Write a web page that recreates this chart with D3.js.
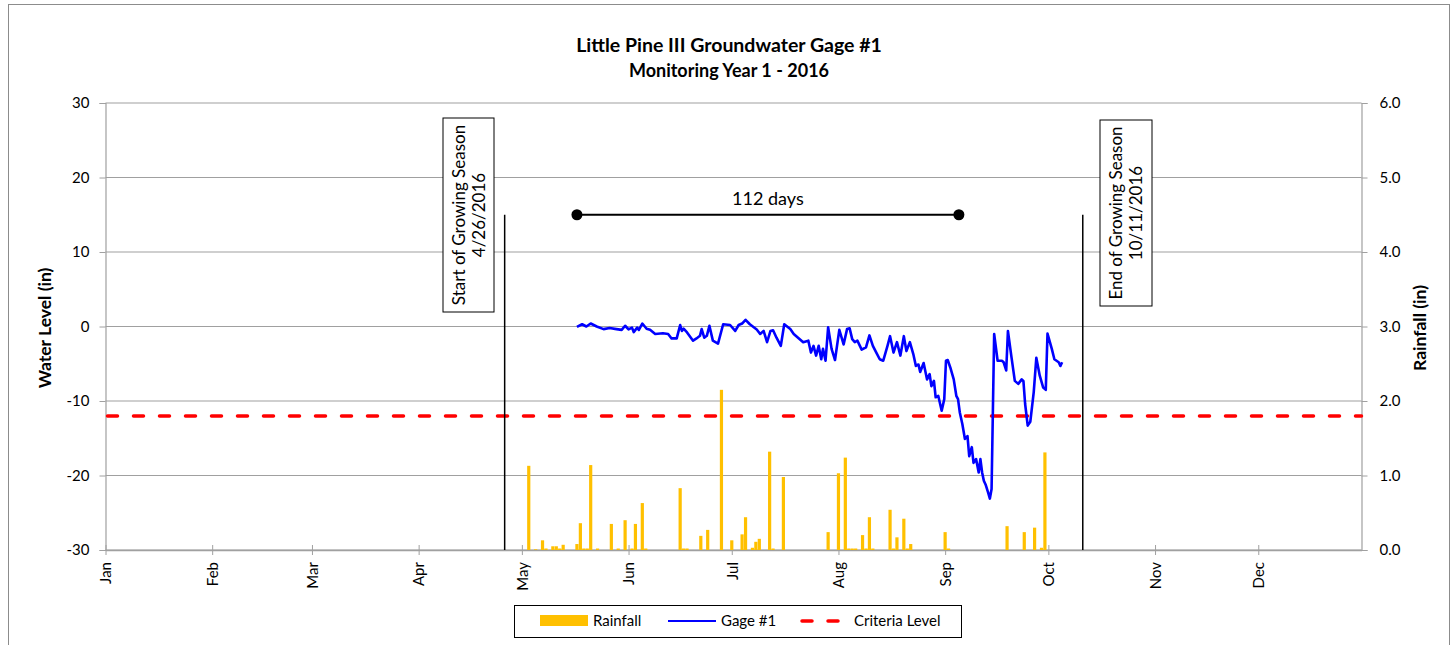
<!DOCTYPE html>
<html>
<head>
<meta charset="utf-8">
<script src="https://d3js.org/d3.v7.min.js"></script>
<style>
  body { margin: 0; background: #fff; }
  text { font-family: "Lato", "Liberation Sans", sans-serif; fill: #000; }
  .grid { stroke: #a0a0a0; stroke-width: 1.2; }
</style>
</head>
<body>
<div id="chart"></div>
<script>
// ---- data ----
var monthLabels = ["Jan", "Feb", "Mar", "Apr", "May", "Jun", "Jul", "Aug", "Sep", "Oct", "Nov", "Dec"];
var levelTicks = [-30, -20, -10, 0, 10, 20, 30];
var rainTicks = [0, 1, 2, 3, 4, 5, 6];

var rainDates = ["05-03","05-05","05-07","05-08","05-10","05-11","05-12","05-13","05-17","05-18",
  "05-19","05-20","05-21","05-23","05-27","05-29","05-31","06-02","06-03","06-05",
  "06-06","06-16","06-17","06-18","06-22","06-24","06-28","07-01","07-04","07-05",
  "07-07","07-08","07-09","07-12","07-13","07-16","07-29","08-01","08-03","08-04",
  "08-05","08-06","08-08","08-09","08-10","08-11","08-16","08-17","08-18","08-20",
  "08-21","08-22","09-01","09-02","09-19","09-24","09-27","09-29","09-30"];
var rainValues = [1.13,0.01,0.13,0.02,0.05,0.05,0.02,0.07,0.08,0.36,
  0.02,0.02,1.14,0.02,0.35,0.02,0.40,0.02,0.35,0.63,
  0.02,0.83,0.02,0.02,0.19,0.27,2.15,0.13,0.21,0.44,
  0.03,0.11,0.15,1.32,0.02,0.98,0.24,1.03,1.24,0.02,
  0.02,0.02,0.20,0.02,0.44,0.02,0.54,0.02,0.17,0.42,
  0.02,0.08,0.24,0.02,0.32,0.24,0.30,0.03,1.31];

var gageTimes = ["05-17 00","05-18 12","05-19 18","05-21 00","05-22 18","05-24 18","05-26 12","05-28 12","05-30 00","05-31 00",
  "06-01 00","06-02 00","06-02 12","06-03 12","06-04 00","06-05 00","06-06 06","06-07 06","06-08 18","06-11 00",
  "06-12 12","06-13 12","06-15 00","06-16 00","06-16 12","06-17 00","06-18 00","06-19 18","06-20 18","06-21 18",
  "06-22 06","06-23 00","06-23 18","06-24 12","06-25 12","06-27 00","06-28 12","06-30 12","07-02 00","07-03 00",
  "07-04 00","07-05 00","07-06 06","07-08 06","07-09 06","07-10 06","07-11 06","07-12 06","07-13 00","07-14 00",
  "07-15 06","07-16 06","07-18 00","07-19 00","07-20 06","07-21 18","07-23 06","07-24 00","07-24 18","07-25 12",
  "07-26 06","07-27 00","07-27 12","07-28 06","07-29 00","07-30 00","07-31 00","08-01 06","08-02 12","08-03 12",
  "08-04 06","08-05 00","08-05 18","08-06 12","08-07 18","08-09 00","08-10 00","08-11 00","08-12 00","08-13 00",
  "08-14 00","08-15 06","08-16 00","08-17 00","08-18 00","08-19 00","08-20 00","08-20 18","08-21 18","08-22 18",
  "08-23 12","08-24 06","08-24 18","08-25 18","08-26 18","08-27 12","08-28 00","08-28 18","08-29 06","08-30 00",
  "08-31 00","08-31 18","09-01 06","09-01 18","09-02 12","09-03 12","09-04 06","09-04 18","09-05 06","09-06 00",
  "09-06 18","09-07 12","09-08 00","09-08 18","09-09 06","09-10 00","09-10 18","09-11 06","09-11 18","09-12 06",
  "09-12 18","09-13 12","09-14 00","09-14 12","09-15 06","09-16 06","09-17 12","09-18 00","09-18 18","09-19 06",
  "09-20 06","09-21 06","09-22 06","09-23 06","09-23 18","09-24 06","09-25 00","09-25 18","09-26 18","09-27 12",
  "09-28 12","09-29 12","09-30 06","09-30 18","10-02 00","10-02 18","10-04 00","10-04 12","10-05 00"];
var gageLevels = [-0.05,0.3,0,0.4,0,-0.35,-0.2,-0.35,-0.45,0.1,
  -0.4,-0.15,-0.75,-0.15,-0.45,0.4,-0.3,-0.45,-1.0,-0.9,
  -1.0,-1.6,-1.6,0.2,-0.6,-0.3,-0.8,-1.9,-1.6,-1.25,
  -0.35,-1.5,-1.25,0.1,-1.9,-2.3,0.3,0.2,-0.6,0.2,
  0.4,0.9,0.3,-0.4,-1.0,-0.6,-2.1,-0.6,-0.5,-1.5,
  -2.6,0.3,-0.35,-1.0,-1.5,-2.1,-1.9,-3.5,-2.6,-3.9,
  -2.6,-4.4,-3.0,-4.6,-0.1,-3.0,-4.5,-0.45,-2.4,-0.35,
  -0.25,-1.7,-2.1,-1.9,-3.1,-2.8,-1.2,-2.6,-3.5,-4.4,
  -4.6,-2.6,-1.3,-3.5,-2.1,-3.9,-1.3,-3.3,-2.1,-3.7,
  -5.3,-5.1,-6.1,-4.9,-7.1,-6.4,-8.0,-7.3,-9.5,-9.3,
  -11.3,-9.75,-4.6,-4.5,-5.5,-7.1,-9.3,-9.75,-11.5,-13.1,
  -15.1,-14.7,-17.4,-16.2,-18.3,-17.8,-19.6,-17.8,-19.6,-20.7,
  -21.2,-22.3,-23.1,-21.8,-1.0,-4.6,-4.6,-4.8,-5.9,-0.6,
  -4.0,-7.3,-7.7,-7.1,-7.3,-10.4,-13.3,-12.8,-8.8,-4.2,
  -6.6,-8.2,-8.5,-0.95,-3.0,-4.4,-4.8,-5.3,-4.8];

var criteriaLevel = -12;
var seasonStart = "04-26", seasonEnd = "10-11";
var spanStart = "05-17", spanEnd = "09-05", spanLevel = 15, spanLabel = "112 days";

// ---- layout ----
var W = 1456, H = 645;
var plot = { left: 105.5, right: 1361.5, top: 103, bottom: 550 };

var parseDay = d3.timeParse("%Y-%m-%d");
var parseTime = d3.timeParse("%Y-%m-%d %H");
function day(s) { return parseDay("2016-" + s); }

var x = d3.scaleTime()
  .domain([new Date(2016, 0, 1), new Date(2016, 11, 31)])
  .range([plot.left, plot.right]);
var y = d3.scaleLinear().domain([-30, 30]).range([plot.bottom, plot.top]);
var yR = d3.scaleLinear().domain([0, 6]).range([plot.bottom, plot.top]);

var svg = d3.select("#chart").append("svg")
  .attr("width", W).attr("height", H);

svg.append("rect").attr("width", W).attr("height", H).attr("fill", "#fff");
// chart frame
svg.append("rect").attr("x", 8.5).attr("y", 4.5).attr("width", 1441).attr("height", 660)
  .attr("fill", "none").attr("stroke", "#8c8c8c").attr("stroke-width", 1);

// title
svg.append("text").attr("x", 729).attr("y", 52).attr("text-anchor", "middle")
  .style("font-weight", "bold").style("font-size", "19.5px")
  .text("Little Pine III Groundwater Gage #1");
svg.append("text").attr("x", 729).attr("y", 77).attr("text-anchor", "middle")
  .style("font-weight", "bold").style("font-size", "18px")
  .text("Monitoring Year 1 - 2016");

// gridlines
svg.append("g").selectAll("line").data(levelTicks).join("line")
  .attr("class", "grid")
  .attr("x1", plot.left).attr("x2", plot.right)
  .attr("y1", d => y(d)).attr("y2", d => y(d));

// left axis
var leftAxis = svg.append("g").attr("transform", "translate(" + plot.left + ",0)")
  .call(d3.axisLeft(y).tickValues(levelTicks).tickFormat(d => String(d)).tickSize(6).tickPadding(10));
leftAxis.select(".domain").attr("stroke", "#a0a0a0").attr("stroke-width", 1.2);
leftAxis.selectAll(".tick line").attr("stroke", "#a0a0a0");
leftAxis.selectAll("text").style("font-size", "15px").style("font-family", "Lato, sans-serif");

// right axis
var rightAxis = svg.append("g").attr("transform", "translate(" + plot.right + ",0)")
  .call(d3.axisRight(yR).tickValues(rainTicks).tickFormat(d => d.toFixed(1)).tickSize(6).tickPadding(12));
rightAxis.select(".domain").attr("stroke", "#a0a0a0").attr("stroke-width", 1.2);
rightAxis.selectAll(".tick line").attr("stroke", "#a0a0a0");
rightAxis.selectAll("text").style("font-size", "15px").style("font-family", "Lato, sans-serif");

// bottom axis
var months = d3.range(12).map(m => new Date(2016, m, 1));
var bottomAxis = svg.append("g").attr("transform", "translate(0," + plot.bottom + ")")
  .call(d3.axisBottom(x).tickValues(months).tickFormat((d, i) => monthLabels[i]).tickSize(5).tickSizeOuter(0));
bottomAxis.select(".domain").attr("stroke", "#a0a0a0").attr("stroke-width", 1.5);
bottomAxis.selectAll(".tick line").attr("stroke", "#a0a0a0").attr("y1", -5).attr("y2", 5);
bottomAxis.selectAll("text")
  .style("font-size", "15px").style("font-family", "Lato, sans-serif")
  .attr("text-anchor", "end").attr("transform", "rotate(-90)")
  .attr("x", -12).attr("y", 0).attr("dy", "0.35em");

// axis titles
svg.append("text").attr("transform", "translate(51,328) rotate(-90)")
  .attr("text-anchor", "middle").style("font-weight", "bold").style("font-size", "17.5px")
  .text("Water Level (in)");
svg.append("text").attr("transform", "translate(1426,328) rotate(-90)")
  .attr("text-anchor", "middle").style("font-weight", "bold").style("font-size", "17.5px")
  .text("Rainfall (in)");

// rainfall bars
var rain = rainDates.map((d, i) => ({ date: day(d), value: rainValues[i] }));
svg.append("g").selectAll("rect").data(rain).join("rect")
  .attr("x", d => x(d.date) - 1.6).attr("width", 3.2)
  .attr("y", d => yR(d.value)).attr("height", d => yR(0) - yR(d.value))
  .attr("fill", "#ffc000");

// criteria line
svg.append("line")
  .attr("x1", plot.left).attr("x2", plot.right)
  .attr("y1", y(criteriaLevel)).attr("y2", y(criteriaLevel))
  .attr("stroke", "#ff0000").attr("stroke-width", 3.5)
  .attr("stroke-dasharray", "10,16").attr("stroke-linecap", "round")
  .attr("stroke-dashoffset", -2);

// season lines
[seasonStart, seasonEnd].forEach(s => {
  svg.append("line")
    .attr("x1", x(day(s))).attr("x2", x(day(s)))
    .attr("y1", y(spanLevel)).attr("y2", plot.bottom)
    .attr("stroke", "#000").attr("stroke-width", 1.5);
});

// gage line
var gage = gageTimes.map((t, i) => ({ date: parseTime("2016-" + t), value: gageLevels[i] }));
svg.append("path").datum(gage)
  .attr("fill", "none").attr("stroke", "#0000ff").attr("stroke-width", 2.6)
  .attr("stroke-linejoin", "round")
  .attr("d", d3.line().x(d => x(d.date)).y(d => y(d.value)));

// 112 days span
var sx1 = x(day(spanStart)), sx2 = x(day(spanEnd)), sy = y(spanLevel);
svg.append("line").attr("x1", sx1).attr("x2", sx2).attr("y1", sy).attr("y2", sy)
  .attr("stroke", "#000").attr("stroke-width", 2);
[sx1, sx2].forEach(cx => svg.append("circle").attr("cx", cx).attr("cy", sy).attr("r", 5.5).attr("fill", "#000"));
svg.append("text").attr("x", (sx1 + sx2) / 2).attr("y", sy - 10).attr("text-anchor", "middle")
  .style("font-size", "18px").text(spanLabel);

// season annotation boxes
function seasonBox(cx, cy, w, h, lines) {
  svg.append("rect").attr("x", cx - w / 2).attr("y", cy - h / 2).attr("width", w).attr("height", h)
    .attr("fill", "#fff").attr("stroke", "#000").attr("stroke-width", 1);
  var t = svg.append("text").attr("transform", "translate(" + cx + "," + cy + ") rotate(-90)")
    .attr("text-anchor", "middle").style("font-size", "17px");
  t.append("tspan").attr("x", 0).attr("y", -4).text(lines[0]);
  t.append("tspan").attr("x", 0).attr("y", 16).text(lines[1]);
}
seasonBox(468.5, 215, 51, 194, ["Start of Growing Season", "4/26/2016"]);
seasonBox(1126, 213, 52, 186, ["End of Growing Season", "10/11/2016"]);

// legend
var lg = svg.append("g");
lg.append("rect").attr("x", 514.5).attr("y", 605.5).attr("width", 447).attr("height", 32)
  .attr("fill", "#fff").attr("stroke", "#000").attr("stroke-width", 1);
lg.append("rect").attr("x", 540).attr("y", 615).attr("width", 48).attr("height", 11).attr("fill", "#ffc000");
lg.append("text").attr("x", 593).attr("y", 626).style("font-size", "15px").text("Rainfall");
lg.append("line").attr("x1", 668).attr("x2", 716).attr("y1", 621).attr("y2", 621)
  .attr("stroke", "#0000ff").attr("stroke-width", 2.2);
lg.append("text").attr("x", 721).attr("y", 626).style("font-size", "15px").text("Gage #1");
lg.append("line").attr("x1", 802).attr("x2", 840).attr("y1", 621).attr("y2", 621)
  .attr("stroke", "#ff0000").attr("stroke-width", 3.5)
  .attr("stroke-dasharray", "10,16").attr("stroke-linecap", "round");
lg.append("text").attr("x", 854).attr("y", 626).style("font-size", "15px").text("Criteria Level");
</script>
</body>
</html>
